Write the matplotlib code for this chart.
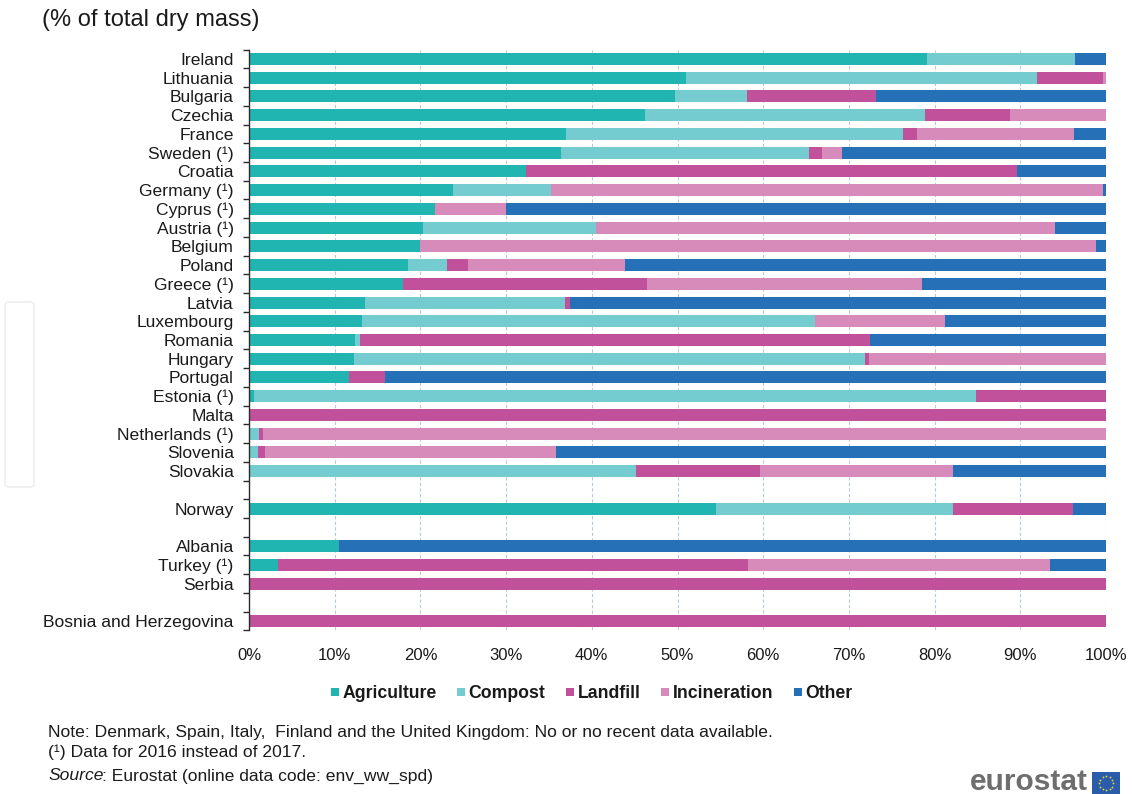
import numpy as np
import matplotlib
matplotlib.use("Agg")
import matplotlib.pyplot as plt
from matplotlib.lines import Line2D
from matplotlib.patches import Rectangle, FancyBboxPatch

plt.rcParams['font.family'] = ['Liberation Sans', 'DejaVu Sans']

# ---------------- data ----------------
countries = ["Ireland", "Lithuania", "Bulgaria", "Czechia", "France", "Sweden (\u00b9)",
             "Croatia", "Germany (\u00b9)", "Cyprus (\u00b9)", "Austria (\u00b9)", "Belgium",
             "Poland", "Greece (\u00b9)", "Latvia", "Luxembourg", "Romania", "Hungary",
             "Portugal", "Estonia (\u00b9)", "Malta", "Netherlands (\u00b9)", "Slovenia",
             "Slovakia", "Norway", "Albania", "Turkey (\u00b9)", "Serbia",
             "Bosnia and Herzegovina"]
group_sizes = [23, 1, 3, 1]   # EU, EFTA, candidates, potential candidates

agriculture = [79.1, 51.0, 49.7, 46.2, 37.0, 36.4, 32.3, 23.8, 21.7, 20.3, 20.0,
               18.5, 18.0, 13.5, 13.2, 12.4, 12.2, 11.7, 0.6, 0.0, 0.0, 0.0,
               0.0, 54.5, 10.5, 3.4, 0.0, 0.0]
compost = [17.3, 41.0, 8.4, 32.7, 39.3, 29.0, 0.0, 11.4, 0.0, 20.2, 0.0,
           4.6, 0.0, 23.4, 52.9, 0.6, 59.7, 0.0, 84.2, 0.0, 1.2, 1.05,
           45.2, 27.7, 0.0, 0.0, 0.0, 0.0]
landfill = [0.0, 7.6, 15.1, 9.9, 1.6, 1.5, 57.3, 0.0, 0.0, 0.0, 0.0,
            2.5, 28.4, 0.5, 0.0, 59.5, 0.5, 4.2, 15.2, 100.0, 0.4, 0.85,
            14.4, 14.0, 0.0, 54.8, 100.0, 100.0]
incineration = [0.0, 0.4, 0.0, 11.2, 18.4, 2.3, 0.0, 64.5, 8.3, 53.5, 78.8,
                18.3, 32.1, 0.0, 15.1, 0.0, 27.6, 0.0, 0.0, 0.0, 98.4, 33.9,
                22.5, 0.0, 0.0, 35.3, 0.0, 0.0]
other = [3.6, 0.0, 26.8, 0.0, 3.7, 30.8, 10.4, 0.3, 70.0, 6.0, 1.2,
         56.1, 21.5, 62.6, 18.8, 27.5, 0.0, 84.1, 0.0, 0.0, 0.0, 64.2,
         17.9, 3.8, 89.5, 6.5, 0.0, 0.0]

series_names = ["Agriculture", "Compost", "Landfill", "Incineration", "Other"]
series_colors = ["#21B5B1", "#74CBD0", "#C2519C", "#D78BBA", "#2670B8"]
x_ticks = [0, 10, 20, 30, 40, 50, 60, 70, 80, 90, 100]
x_tick_labels = ["0%", "10%", "20%", "30%", "40%", "50%", "60%", "70%", "80%", "90%", "100%"]

# ---------------- layout ----------------
W, H = 1133, 794
fig = plt.figure(figsize=(W / 100, H / 100), dpi=100)
ax_left, ax_right = 249 / W, 1106 / W
ax_top, ax_bot = 1 - 49.6 / H, 1 - 630.4 / H
ax = fig.add_axes([ax_left, ax_bot, ax_right - ax_left, ax_top - ax_bot])

# positions with one empty slot between groups
positions = []
p = 0
for gi, n in enumerate(group_sizes):
    for _ in range(n):
        positions.append(p)
        p += 1
    p += 1
n_slots = positions[-1] + 1
positions = np.array(positions)

data = [agriculture, compost, landfill, incineration, other]
left = np.zeros(len(countries))
for vals, name, col in zip(data, series_names, series_colors):
    vals = np.array(vals)
    ax.barh(positions, vals, left=left, height=0.64, color=col, linewidth=0,
            label=name, zorder=3)
    left += vals

ax.set_xlim(0, 100)
ax.set_ylim(n_slots - 0.5, -0.5)

ax.set_xticks(x_ticks)
ax.set_xticklabels(x_tick_labels, fontsize=12, color="#1a1a1a")
ax.tick_params(axis="x", length=0, pad=13)
for xv in x_ticks[1:]:
    ax.axvline(xv, color="#B7CADB", linestyle=(0, (3, 2)), linewidth=0.8, zorder=1)

ax.set_yticks(positions)
ax.set_yticklabels(countries, fontsize=12.6, color="#1a1a1a")
ax.tick_params(axis="y", which="major", length=0, pad=11)
ax.set_yticks(np.arange(-0.5, n_slots + 0.5, 1.0), minor=True)
ax.tick_params(axis="y", which="minor", length=4, width=1.0, color="#2a2a2a")

for s in ["top", "right", "bottom"]:
    ax.spines[s].set_visible(False)
ax.spines["left"].set_color("#2a2a2a")
ax.spines["left"].set_linewidth(1.0)
ax.spines["left"].set_zorder(4)

# title
fig.text(42 / W, 1 - 20 / H, "(% of total dry mass)", fontsize=17, ha="left",
         va="center", color="#1a1a1a")

# legend
handles = [Line2D([], [], marker="s", linestyle="none", markersize=5.5,
                  markerfacecolor=c, markeredgewidth=0) for c in series_colors]
leg = fig.legend(handles, series_names, loc="center", ncol=5,
                 bbox_to_anchor=(591 / W, 1 - 694 / H), frameon=False,
                 handlelength=0.55, handletextpad=0.15, columnspacing=1.12,
                 prop={"weight": "bold", "size": 12.7})
for t in leg.get_texts():
    t.set_color("#1a1a1a")

# footer
fx = 48 / W
fs = 12.6
fig.text(fx, 1 - 732 / H,
         "Note: Denmark, Spain, Italy,  Finland and the United Kingdom: No or no recent data available.",
         fontsize=fs, ha="left", va="center", color="#1a1a1a")
fig.text(fx, 1 - 752 / H, "(\u00b9) Data for 2016 instead of 2017.",
         fontsize=fs, ha="left", va="center", color="#1a1a1a")
t1 = fig.text(fx, 1 - 776 / H, "Source", fontsize=fs, ha="left", va="center",
              style="italic", color="#1a1a1a")
fig.canvas.draw()
bb = t1.get_window_extent()
fig.text((bb.x1 - 1.5) / W, 1 - 776 / H, ": Eurostat (online data code: env_ww_spd)",
         fontsize=fs, ha="left", va="center", color="#1a1a1a")

# faint box at left edge (artifact in reference)
fig.add_artist(FancyBboxPatch((5 / W, 1 - 487 / H), 29 / W, 185 / H,
                              boxstyle="round,pad=0,rounding_size=0.004",
                              transform=fig.transFigure, facecolor="none",
                              edgecolor="#EEEEEE", linewidth=1.2))

# eurostat logo
fig.text(1088 / W, 1 - 782 / H, "eurostat", fontsize=21.5, fontweight="bold",
         ha="right", va="center", color="#6E6E6E")
fig.add_artist(Rectangle((1092 / W, 0), 28 / W, 22 / H, transform=fig.transFigure,
                         facecolor="#2A5CAA", edgecolor="none"))
ang = np.linspace(0, 2 * np.pi, 12, endpoint=False)
cx, cy, r = 1106, 783, 7
fig.add_artist(Line2D((cx + r * np.cos(ang)) / W, 1 - (cy + r * np.sin(ang)) / H,
                      transform=fig.transFigure, linestyle="none", marker="o",
                      markersize=1.3, markerfacecolor="#F2D73A", markeredgewidth=0))

fig.savefig("out.png", dpi=100, facecolor="white")
